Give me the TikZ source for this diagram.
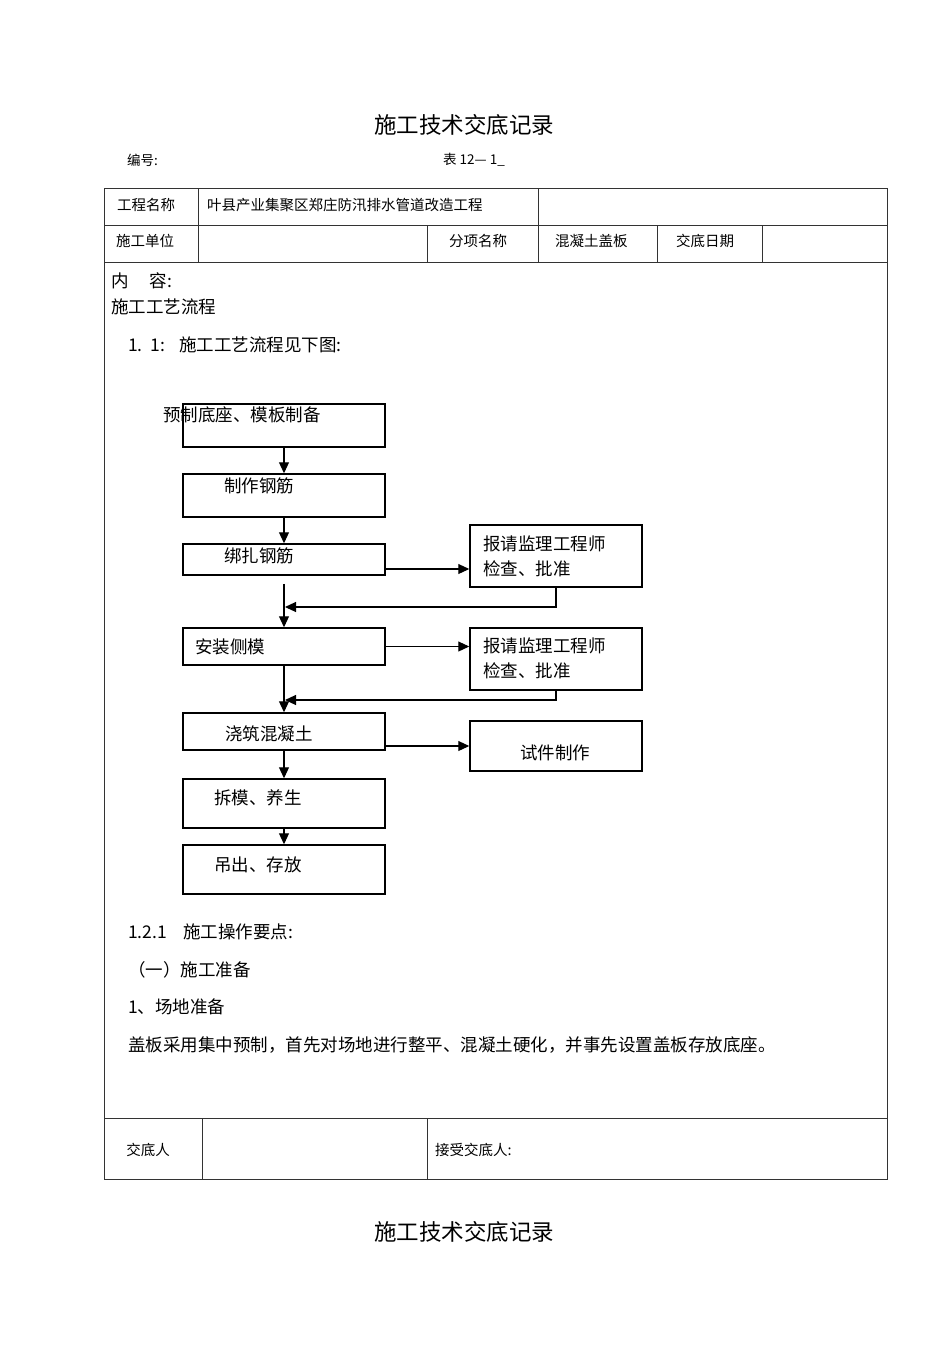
\documentclass[tikz,border=0pt]{standalone}
\usepackage{fontspec}
\setmainfont{Noto Sans CJK SC}
\usepackage{tikz}
\usetikzlibrary{arrows.meta}
\usetikzlibrary{positioning}
\tikzset{
  flowbox/.style={draw, line width=1.5pt, inner sep=0pt, minimum width=202pt},
  sidebox/.style={draw, line width=1.5pt, inner sep=0pt, minimum width=172pt},
  arr/.style={line width=1.1pt, -{Triangle[length=11pt,width=10pt]}},
  tabline/.style={line width=1pt, black!80},
  txt/.style={anchor=west, inner sep=0pt, font=\fontsize{17.5}{25}\selectfont},
  cell/.style={anchor=west, inner sep=0pt, font=\fontsize{14.5}{17}\selectfont},
  ttl/.style={inner sep=0pt, font=\fontsize{22.5}{27}\selectfont},
}

\begin{document}
\begin{tikzpicture}[x=1pt, y=-1pt]
  \useasboundingbox (0,0) rectangle (950,1345);

  % heading
  \node[ttl] (title) at (464,125) {施工技术交底记录};
  \node[cell, font=\fontsize{13.5}{16}\selectfont] (bianhao) at (127,160) {编号:};
  \node[cell, font=\fontsize{13.5}{16}\selectfont] (biao) at (443,160) {表 12— 1\_};

  % table
  \draw[tabline] (104,188) rectangle (887,1179);
  \foreach \y in {225,262,1118}
    \draw[tabline] (104,\y) -- (887,\y);
  \foreach \x in {198,538}
    \draw[tabline] (\x,188) -- (\x,225);
  \foreach \x in {198,427,538,657,762}
    \draw[tabline] (\x,225) -- (\x,262);
  \foreach \x in {202,427}
    \draw[tabline] (\x,1118) -- (\x,1179);

  \node[cell] (gcmc) at (117,205) {工程名称};
  \node[cell] (gcname) at (207,205) {叶县产业集聚区郑庄防汛排水管道改造工程};
  \node[cell] (sgdw) at (116,241) {施工单位};
  \node[cell] (fxmc) at (449,241) {分项名称};
  \node[cell] (fxname) at (555,241) {混凝土盖板};
  \node[cell] (jdrq) at (676,241) {交底日期};
  \node[cell, anchor=center] (jdr) at (148,1150) {交底人};
  \node[cell] (jsjdr) at (435,1150) {接受交底人:};

  % content
  \node[txt] (neirong) at (111,281) {内\hspace{21pt}容:};
  \node[txt] (lc) at (111,307) {施工工艺流程};
  \node[txt] (lc11) at (128,345) {1.\hspace{8pt}1:\hspace{14pt}施工工艺流程见下图:};

  % flow chart
  \node[flowbox, minimum height=43pt] (b1) at (284,425.5) {};
  \node[flowbox, minimum height=43pt] (b2) at (284,495.5) {};
  \node[flowbox, minimum height=31pt] (b3) at (284,559.5) {};
  \node[flowbox, minimum height=37pt] (b4) at (284,646.5) {};
  \node[flowbox, minimum height=37pt] (b5) at (284,731.5) {};
  \node[flowbox, minimum height=49pt] (b6) at (284,803.5) {};
  \node[flowbox, minimum height=49pt] (b7) at (284,869.5) {};
  \node[sidebox, minimum height=62pt] (r1) at (556,556) {};
  \node[sidebox, minimum height=62pt] (r2) at (556,659) {};
  \node[sidebox, minimum height=50pt] (r3) at (556,746) {};

  \node[txt] (t1) at (163,415) {预制底座、模板制备};
  \node[txt] (t2) at (224,486) {制作钢筋};
  \node[txt] (t3) at (224,556) {绑扎钢筋};
  \node[txt] (t4) at (195,647) {安装侧模};
  \node[txt] (t5) at (225,734) {浇筑混凝土};
  \node[txt] (t6) at (214,798) {拆模、养生};
  \node[txt] (t7) at (214,865) {吊出、存放};
  \node[txt, align=left] (s1) at (483,556.5) {报请监理工程师\\检查、批准};
  \node[txt, align=left] (s2) at (483,658) {报请监理工程师\\检查、批准};
  \node[txt] (s3) at (520,753) {试件制作};

  \coordinate (c3) at (385,569);
  \coordinate (c5) at (385,746);
  \coordinate (m1) at (285,607);
  \coordinate (m2) at (285,700);

  \draw[arr] (b1) -- (b2);
  \draw[arr] (b2) -- (b3);
  \draw[arr] (c3) -- (c3 -| r1.west);
  \draw[arr] (r1.south) |- (m1);
  \draw[arr] ([yshift=-8pt]b3.south) -- (b4.north);
  \draw[arr] (b4.east) -- (b4.east -| r2.west);
  \draw[arr] (r2.south) |- (m2);
  \draw[arr] (b4) -- (b5);
  \draw[arr] (c5) -- (c5 -| r3.west);
  \draw[arr] (b5) -- (b6);
  \draw[arr] (b6) -- (b7);

  % operation notes
  \node[txt] (d121) at (128,932) {1.2.1\hspace{16pt}施工操作要点:};
  \node[txt] (d1) at (128,970) {（一）施工准备};
  \node[txt] (d11) at (128,1007) {1、场地准备};
  \node[txt] (d111) at (128,1045) {盖板采用集中预制，首先对场地进行整平、混凝土硬化，并事先设置盖板存放底座。};

  \node[ttl] (title2) at (464,1232) {施工技术交底记录};
\end{tikzpicture}
\end{document}
